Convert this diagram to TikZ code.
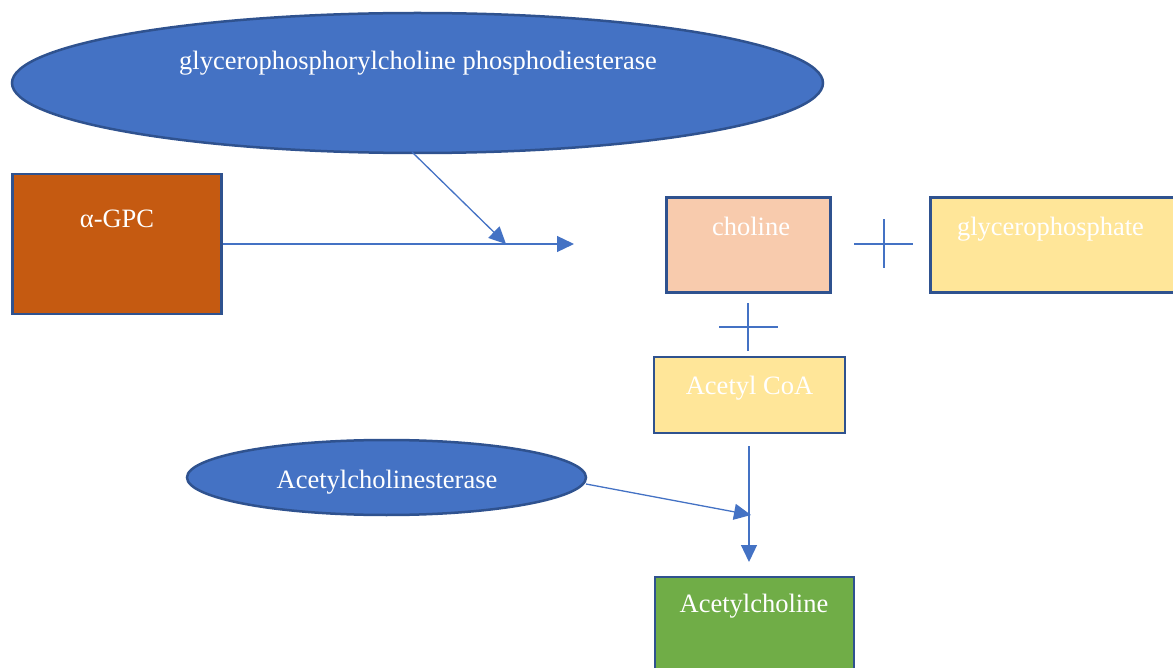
\documentclass[tikz,border=0pt]{standalone}
\usepackage{fontspec}
\setmainfont{Liberation Serif}
\usetikzlibrary{arrows.meta,shapes.geometric}
\definecolor{lineblue}{HTML}{4472C4}
\definecolor{edgeblue}{HTML}{2F528F}
\definecolor{gpcorange}{HTML}{C55A11}
\definecolor{cholpink}{HTML}{F8CBAD}
\definecolor{paleyellow}{HTML}{FFE699}
\definecolor{leafgreen}{HTML}{70AD47}
\tikzset{
  shapebox/.style={draw=edgeblue, line width=2.5pt, inner sep=0pt, rectangle},
  shapeoval/.style={draw=edgeblue, line width=2.5pt, inner sep=0pt, ellipse, fill=lineblue},
  lbl/.style={text=white, anchor=base, inner sep=0pt, font=\fontsize{26.5}{30}\selectfont},
  conn/.style={draw=lineblue, line width=1.3pt, -{Triangle[length=17pt,width=16pt]}},
  plusline/.style={draw=lineblue, line width=1.5pt}
}
\begin{document}
\begin{tikzpicture}[x=1pt,y=-1pt]
\useasboundingbox (0,0) rectangle (1173,668);
\clip (0,0) rectangle (1173,668);
% shapes
\node[shapeoval, minimum width=811pt, minimum height=140pt] (pde) at (417.5,83) {};
\node[shapebox, fill=gpcorange, minimum width=209pt, minimum height=140pt] (gpc) at (117,244) {};
\node[shapebox, fill=cholpink, minimum width=164pt, minimum height=95pt] (chol) at (748.5,245) {};
\node[shapebox, fill=paleyellow, minimum width=245pt, minimum height=95pt] (gp) at (1053,245) {};
\node[shapebox, fill=paleyellow, minimum width=191pt, minimum height=76pt] (acoa) at (749.5,395) {};
\node[shapeoval, minimum width=399pt, minimum height=75pt] (ache) at (386.5,477.5) {};
\node[shapebox, fill=leafgreen, minimum width=199pt, minimum height=140pt] (ach) at (754.5,647) {};
% labels
\node[lbl] (pdet) at (418,70) {glycerophosphorylcholine phosphodiesterase};
\node[lbl] (gpct) at (117,228) {α-GPC};
\node[lbl] (cholt) at (751,236) {choline};
\node[lbl] (gpt) at (1050.5,236) {glycerophosphate};
\node[lbl] (acoat) at (749.5,394) {Acetyl CoA};
\node[lbl] (achet) at (387,488) {Acetylcholinesterase};
\node[lbl] (acht) at (754,612) {Acetylcholine};
% coordinates
\coordinate (mainend) at (574,244);
\coordinate (pdetip) at (506,244);
\coordinate (pdestart) at (412,152);
\coordinate (vstart) at (749,446);
\coordinate (vend) at (749,562);
\coordinate (achetip) at (751,515);
\coordinate (achestart) at (586,484);
% connectors
\draw[conn] (gpc.east |- mainend) -- (mainend);
\draw[conn] (pdestart) -- (pdetip);
\draw[conn] (vstart) -- (vend);
\draw[conn] (achestart) -- (achetip);
% plus signs
\coordinate (plus1) at (884,244);
\coordinate (plus2) at (748,327);
\draw[plusline] ([xshift=-30pt]plus1) -- ([xshift=29pt]plus1);
\draw[plusline] ([yshift=-24pt]plus1) -- ([yshift=25pt]plus1);
\draw[plusline] ([xshift=-29pt]plus2) -- ([xshift=30pt]plus2);
\draw[plusline] ([yshift=-24pt]plus2) -- ([yshift=24pt]plus2);
\end{tikzpicture}
\end{document}
